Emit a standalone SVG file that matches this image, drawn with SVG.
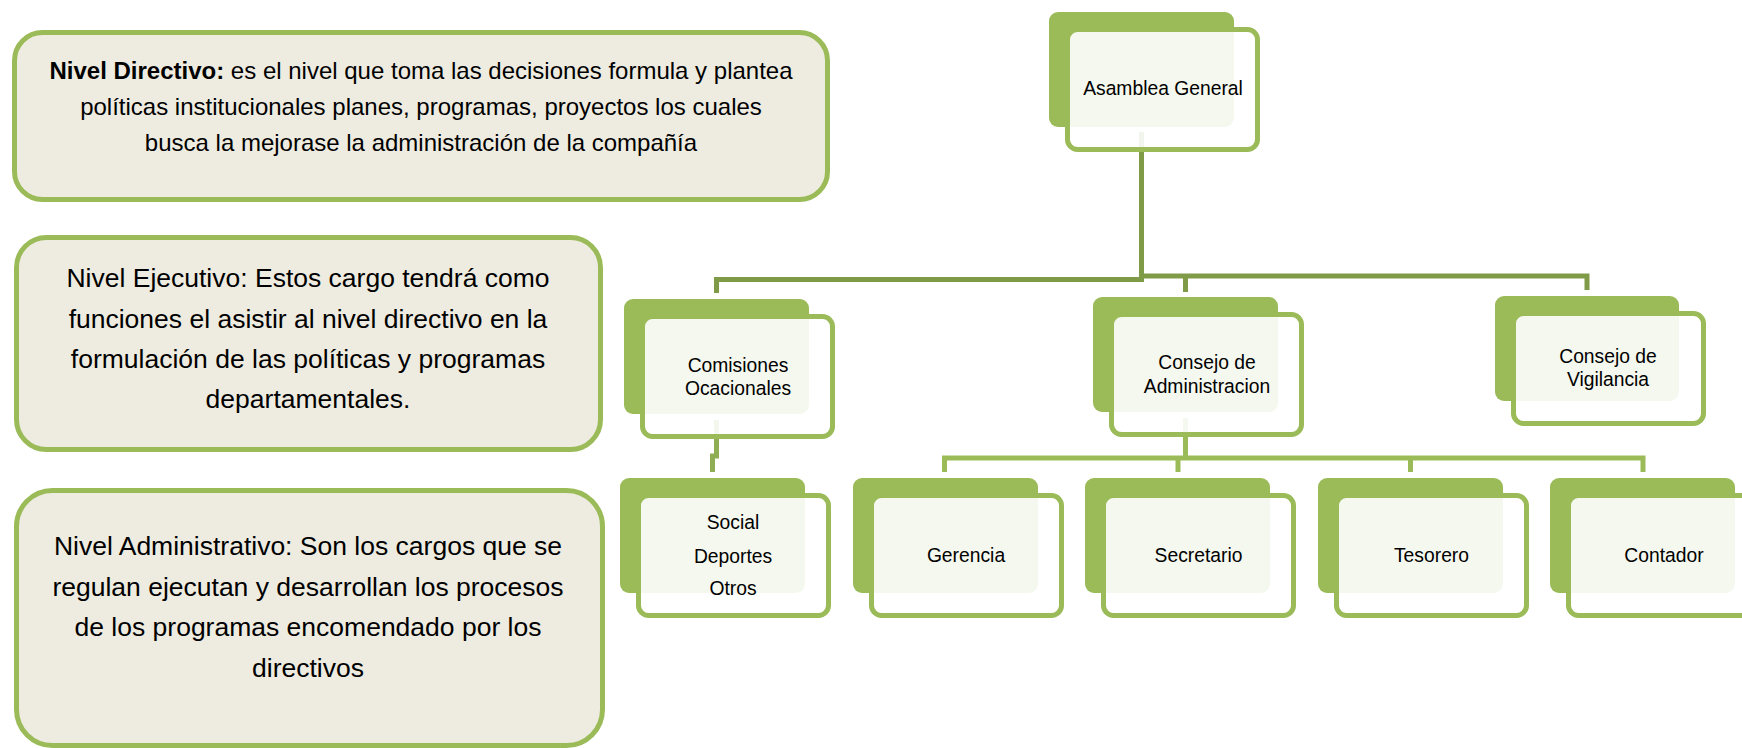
<svg xmlns="http://www.w3.org/2000/svg" width="1742" height="748" viewBox="0 0 1742 748">
<style>
.lvl{fill:#EEECE1;stroke:#9BBB59;stroke-width:5}
.lt{font-family:"Liberation Sans",Arial,sans-serif;fill:#000;text-anchor:middle}
.back{fill:#9BBB59}
.front{fill:#FFFFFF;fill-opacity:0.9;stroke:#9BBB59;stroke-width:5}
.nt{font-family:"Liberation Sans",Arial,sans-serif;font-size:19.3px;fill:#000;text-anchor:middle}
.c1{fill:none;stroke:#7F9B48;stroke-width:5}
.c2{fill:none;stroke:#8FAD52;stroke-width:5}
.c3{fill:none;stroke:#9BBB59;stroke-width:5}
</style>
<rect width="1742" height="748" fill="#FFFFFF"/>

<g id="nivel-directivo">
<rect class="lvl" x="14.5" y="32.5" width="813" height="167" rx="28"/>
<text class="lt" font-size="24" x="421" y="79"><tspan font-weight="bold">Nivel Directivo:</tspan> es el nivel que toma las decisiones formula y plantea</text>
<text class="lt" font-size="24" x="421" y="115">políticas institucionales planes, programas, proyectos los cuales</text>
<text class="lt" font-size="24" x="421" y="151">busca la mejorase la administración de la compañía</text>
</g>

<g id="nivel-ejecutivo">
<rect class="lvl" x="16.5" y="237.5" width="584" height="212" rx="30"/>
<text class="lt" font-size="26.5" x="308" y="287">Nivel Ejecutivo: Estos cargo tendrá como</text>
<text class="lt" font-size="26.5" x="308" y="328">funciones el asistir al nivel directivo en la</text>
<text class="lt" font-size="26.5" x="308" y="368">formulación de las políticas y programas</text>
<text class="lt" font-size="26.5" x="308" y="408">departamentales.</text>
</g>

<g id="nivel-administrativo">
<rect class="lvl" x="16.5" y="490.5" width="586" height="255" rx="36"/>
<text class="lt" font-size="26.5" x="308" y="555">Nivel Administrativo: Son los cargos que se</text>
<text class="lt" font-size="26.5" x="308" y="595.5">regulan ejecutan y desarrollan los procesos</text>
<text class="lt" font-size="26.5" x="308" y="636">de los programas encomendado por los</text>
<text class="lt" font-size="26.5" x="308" y="676.5">directivos</text>
</g>

<g id="connectors">
<path class="c1" d="M1141.5 132 V281"/>
<path class="c1" d="M716.5 293 V279.5 H1144"/>
<path class="c1" d="M1139 276 H1587 V290"/>
<path class="c1" d="M1185.5 276 V292"/>
<path class="c2" d="M716.5 420 V456 H712.5 V472"/>
<path class="c3" d="M1185.5 418 V458"/>
<path class="c3" d="M944.5 472 V458 H1643 V472"/>
<path class="c3" d="M1178 458 V472"/>
<path class="c3" d="M1410.5 458 V472"/>
</g>

<g id="asamblea-general">
<rect class="back" x="1049" y="12" width="185" height="115" rx="9"/>
<rect class="front" x="1067.5" y="29.5" width="190" height="120" rx="10"/>
<text class="nt" x="1163" y="95">Asamblea General</text>
</g>

<g id="comisiones-ocacionales">
<rect class="back" x="624" y="299" width="185" height="115" rx="9"/>
<rect class="front" x="642.5" y="316.5" width="190" height="120" rx="10"/>
<text class="nt" x="738" y="372">Comisiones</text>
<text class="nt" x="738" y="395">Ocacionales</text>
</g>

<g id="consejo-administracion">
<rect class="back" x="1093" y="297" width="185" height="115" rx="9"/>
<rect class="front" x="1111.5" y="314.5" width="190" height="120" rx="10"/>
<text class="nt" x="1207" y="369">Consejo de</text>
<text class="nt" x="1207" y="392.5">Administracion</text>
</g>

<g id="consejo-vigilancia">
<rect class="back" x="1495" y="296" width="184" height="105" rx="9"/>
<rect class="front" x="1513.5" y="313.5" width="190" height="110" rx="10"/>
<text class="nt" x="1608" y="363">Consejo de</text>
<text class="nt" x="1608" y="386">Vigilancia</text>
</g>

<g id="social-deportes-otros">
<rect class="back" x="620" y="478" width="185" height="115" rx="9"/>
<rect class="front" x="638.5" y="495.5" width="190" height="120" rx="10"/>
<text class="nt" x="733" y="529" font-size="20">Social</text>
<text class="nt" x="733" y="563" font-size="20">Deportes</text>
<text class="nt" x="733" y="595" font-size="20">Otros</text>
</g>

<g id="gerencia">
<rect class="back" x="853" y="478" width="185" height="115" rx="9"/>
<rect class="front" x="871.5" y="495.5" width="190" height="120" rx="10"/>
<text class="nt" x="966" y="562">Gerencia</text>
</g>

<g id="secretario">
<rect class="back" x="1085" y="478" width="185" height="115" rx="9"/>
<rect class="front" x="1103.5" y="495.5" width="190" height="120" rx="10"/>
<text class="nt" x="1198.5" y="562">Secretario</text>
</g>

<g id="tesorero">
<rect class="back" x="1318" y="478" width="185" height="115" rx="9"/>
<rect class="front" x="1336.5" y="495.5" width="190" height="120" rx="10"/>
<text class="nt" x="1431.5" y="562">Tesorero</text>
</g>

<g id="contador">
<rect class="back" x="1550" y="478" width="185" height="115" rx="9"/>
<rect class="front" x="1568.5" y="495.5" width="190" height="120" rx="10"/>
<text class="nt" x="1664" y="562">Contador</text>
</g>
</svg>
